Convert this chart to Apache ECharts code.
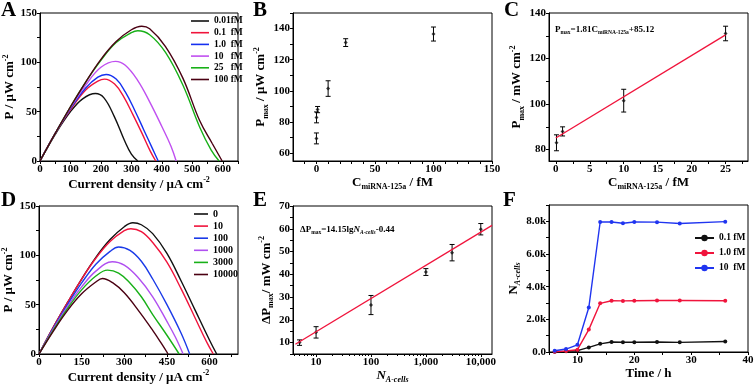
<!DOCTYPE html>
<html>
<head>
<meta charset="utf-8">
<script src="https://cdn.jsdelivr.net/npm/echarts@6/dist/echarts.min.js"></script>
<style>html,body{margin:0;padding:0;background:#fff}#main{width:755px;height:384px}</style>
</head>
<body>
<div id="main"></div>
<script>
var FONT = 'Liberation Serif';

// A: power vs current density, miRNA-125a concentrations
var namesA = ['0.01fM', '0.1  fM', '1.0  fM', '10   fM', '25   fM', '100 fM'];
var colorsA = ['#111111', '#f0143c', '#1530f0', '#c050f0', '#18b018', '#4a0012'];
var A_001 = [[0,0],[50,27],[100,50],[140,63],[182,68.4],[210,64],[244,45],[277,21],[300,7],[321,0]];
var A_01 = [[0,0],[50,28],[100,52],[150,72],[190,81],[212,83],[245,78],[275,65],[305,47],[335,28],[362,10],[380,0]];
var A_1 = [[0,0],[50,28],[100,53],[150,74],[190,85],[217,87.7],[250,83],[280,70],[310,52],[340,32],[370,12],[388,0]];
var A_10 = [[0,0],[50,28],[100,54],[150,77],[200,95],[248,101],[280,97],[320,82],[360,60],[400,35],[430,15],[447,0]];
var A_25 = [[0,0],[50,28],[100,55],[150,80],[200,102],[250,120],[300,130],[321,132],[360,128],[412,110],[469,77],[524,34.5],[562,11],[588,0]];
var A_100 = [[0,0],[50,28],[100,55],[150,80],[200,103],[250,121],[300,133],[334,136.5],[360,134],[412,116],[469,84],[524,41],[565,18],[598,0]];

// B / C: Pmax vs concentration
var concB = [0.01, 0.1, 1, 10, 25, 100];
var pmaxB = [69.5, 83, 88, 101.5, 131, 136.5];
var errB = [3.5, 3.5, 2, 5, 2.5, 4.5];
var concC = [0.1, 1, 10, 25];
var pmaxC = [83, 88, 101.5, 131];
var errC = [3.5, 2, 5, 3.2];
var fitC = [[0, 85.1], [25, 130.4]];

// D: power curves, cell numbers
var namesD = ['0', '10', '100', '1000', '3000', '10000'];
var colorsD = ['#111111', '#f0143c', '#1a3ae8', '#b050f0', '#18b018', '#4a0012'];
var D_0 = [[0,0],[50,27],[100,52],[150,76],[200,98],[250,116],[300,129],[330,133],[360,131],[400,122],[450,102],[500,74],[550,44],[600,14],[625,0]];
var D_10 = [[0,0],[50,27],[100,52],[150,76],[200,97],[250,114],[300,125],[323,127],[360,124],[400,113],[450,93],[500,66],[550,36],[590,12],[613,0]];
var D_100 = [[0,0],[50,26],[100,50],[150,72],[200,91],[250,104],[280,108.5],[320,105],[360,94],[400,76],[450,50],[500,21],[530,0]];
var D_1000 = [[0,0],[50,25],[100,48],[150,68],[200,84],[258,93.5],[300,90],[350,77],[400,58],[450,33],[480,17],[507,0]];
var D_3000 = [[0,0],[50,24],[100,46],[150,65],[200,79],[241,85],[280,82],[320,72],[360,58],[400,40],[450,19],[493,0]];
var D_10000 = [[0,0],[50,23],[100,44],[150,61],[200,73],[223,76.5],[260,72],[300,62],[350,44],[400,24],[430,11],[454,0]];

// E: delta Pmax vs cell number
var cellsE = [5, 10, 100, 1000, 3000, 10000];
var dpE = [10, 14.5, 26.5, 41, 49.5, 59.8];
var errE = [1.2, 2.5, 4.2, 1.5, 3.6, 2.5];
var fitE = [[4.2, 9.3], [16000, 61.5]];

// F: cell count vs time
var timeF = [6, 8, 10, 12, 14, 16, 18, 20, 24, 28, 36];
var namesF = ['0.1 fM', '1.0 fM', '10  fM'];
var colorsF = ['#111111', '#f0143c', '#2035f0'];
var F_01 = [18, 40, 80, 280, 500, 610, 600, 600, 610, 590, 640];
var F_1 = [18, 60, 140, 1370, 2980, 3140, 3130, 3140, 3150, 3150, 3140];
var F_10 = [80, 180, 440, 2720, 7960, 7960, 7880, 7960, 7950, 7870, 7980];

var rich = {
  n: {fontFamily: FONT, fontWeight: 'bold', fontSize: 13, color: '#000', verticalAlign: 'middle'},
  i: {fontFamily: FONT, fontWeight: 'bold', fontStyle: 'italic', fontSize: 13, color: '#000', verticalAlign: 'middle'},
  sub: {fontFamily: FONT, fontWeight: 'bold', fontSize: 8, color: '#000', verticalAlign: 'bottom', padding: [9, 0, 0, 0]},
  subi: {fontFamily: FONT, fontWeight: 'bold', fontStyle: 'italic', fontSize: 8, color: '#000', verticalAlign: 'bottom', padding: [9, 0, 0, 0]},
  sup: {fontFamily: FONT, fontWeight: 'bold', fontSize: 8, color: '#000', verticalAlign: 'top', padding: [0, 0, 9, 0]}
};
var richSmall = {
  n: {fontFamily: FONT, fontWeight: 'bold', fontSize: 9, color: '#000', verticalAlign: 'middle'},
  i: {fontFamily: FONT, fontWeight: 'bold', fontStyle: 'italic', fontSize: 9, color: '#000', verticalAlign: 'middle'},
  sub: {fontFamily: FONT, fontWeight: 'bold', fontSize: 5.5, color: '#000', verticalAlign: 'bottom', padding: [6, 0, 0, 0]},
  subi: {fontFamily: FONT, fontWeight: 'bold', fontStyle: 'italic', fontSize: 5.5, color: '#000', verticalAlign: 'bottom', padding: [6, 0, 0, 0]}
};

function range(a, b, step) {
  var r = [];
  for (var v = a; v <= b + 1e-9; v += step) r.push(+v.toFixed(6));
  return r;
}

function axis(gi, min, max, labels, ticks, name, gap, extra) {
  var ax = {
    type: 'value', gridIndex: gi, min: min, max: max,
    splitLine: {show: false},
    axisLine: {onZero: false, lineStyle: {color: '#000', width: 1}},
    axisTick: {customValues: ticks, length: 3, lineStyle: {color: '#000'}},
    axisLabel: {customValues: labels, color: '#000', fontFamily: FONT, fontWeight: 'bold', fontSize: 11, margin: 3},
    name: name, nameLocation: 'middle', nameGap: gap,
    nameTextStyle: {rich: rich}
  };
  if (extra) {
    for (var k in extra) ax[k] = extra[k];
  }
  return ax;
}

function grid(l, t, w, h) {
  return {left: l, top: t, width: w, height: h, show: true, borderColor: '#000', borderWidth: 1, outerBoundsMode: 'none', containLabel: false};
}

function errBars(xi, yi, xs, ys, es) {
  return {
    type: 'custom', xAxisIndex: xi, yAxisIndex: yi, silent: true,
    data: xs.map(function(x, i) { return [x, ys[i] - es[i], ys[i] + es[i]]; }),
    renderItem: function(params, api) {
      var lo = api.coord([api.value(0), api.value(1)]);
      var hi = api.coord([api.value(0), api.value(2)]);
      var w = 2.5;
      var st = {stroke: '#000', lineWidth: 1};
      return {type: 'group', children: [
        {type: 'line', shape: {x1: lo[0], y1: lo[1], x2: hi[0], y2: hi[1]}, style: st},
        {type: 'line', shape: {x1: lo[0] - w, y1: lo[1], x2: lo[0] + w, y2: lo[1]}, style: st},
        {type: 'line', shape: {x1: hi[0] - w, y1: hi[1], x2: hi[0] + w, y2: hi[1]}, style: st}
      ]};
    }
  };
}

function points(xi, yi, xs, ys) {
  return {
    type: 'scatter', xAxisIndex: xi, yAxisIndex: yi, symbol: 'diamond', symbolSize: 4,
    itemStyle: {color: '#111'}, silent: true,
    data: xs.map(function(x, i) { return [x, ys[i]]; })
  };
}

var series = [];
[A_001, A_01, A_1, A_10, A_25, A_100].forEach(function(d, i) {
  series.push({name: namesA[i], type: 'line', xAxisIndex: 0, yAxisIndex: 0, data: d, smooth: 0.4,
    symbol: 'none', lineStyle: {width: 1.4, color: colorsA[i]}, itemStyle: {color: colorsA[i]}});
});
series.push(errBars(1, 1, concB, pmaxB, errB));
series.push(points(1, 1, concB, pmaxB));
series.push({type: 'line', xAxisIndex: 2, yAxisIndex: 2, data: fitC, symbol: 'none',
  lineStyle: {width: 1.3, color: '#f0143c'}, silent: true});
series.push(errBars(2, 2, concC, pmaxC, errC));
series.push(points(2, 2, concC, pmaxC));
[D_0, D_10, D_100, D_1000, D_3000, D_10000].forEach(function(d, i) {
  series.push({name: namesD[i], type: 'line', xAxisIndex: 3, yAxisIndex: 3, data: d, smooth: 0.4,
    symbol: 'none', lineStyle: {width: 1.4, color: colorsD[i]}, itemStyle: {color: colorsD[i]}});
});
series.push({type: 'line', xAxisIndex: 4, yAxisIndex: 4, data: fitE, symbol: 'none',
  lineStyle: {width: 1.3, color: '#f0143c'}, silent: true});
series.push(errBars(4, 4, cellsE, dpE, errE));
series.push(points(4, 4, cellsE, dpE));
[F_01, F_1, F_10].forEach(function(d, i) {
  series.push({name: namesF[i], type: 'line', xAxisIndex: 5, yAxisIndex: 5,
    data: timeF.map(function(t, j) { return [t, d[j]]; }),
    symbol: 'circle', symbolSize: 4, lineStyle: {width: 1.4, color: colorsF[i]}, itemStyle: {color: colorsF[i]}});
});

var eMinor = [];
[1, 10, 100, 1000].forEach(function(dec) {
  for (var m = 2; m <= 9; m++) {
    var v = m * dec;
    if (v > 3.8 && v < 16000) eMinor.push(v);
  }
});

var legendText = {fontFamily: FONT, fontWeight: 'bold', color: '#000'};

var chart = echarts.init(document.getElementById('main'));
chart.setOption({
  animation: false,
  backgroundColor: '#fff',
  title: [
    {text: 'A', left: 1, top: 0},
    {text: 'B', left: 253, top: 0},
    {text: 'C', left: 504, top: 0},
    {text: 'D', left: 1, top: 190},
    {text: 'E', left: 253, top: 190},
    {text: 'F', left: 503, top: 190},
    {text: '{n|P}{sub|max}{n|=1.81C}{sub|miRNA-125a}{n|+85.12}', left: 555, top: 24,
      textStyle: {rich: richSmall}},
    {text: '{n|ΔP}{sub|max}{n|=14.15lg}{i|N}{subi|A-cells}{n|-0.44}', left: 300, top: 224,
      textStyle: {rich: richSmall}}
  ].map(function(t) {
    if (!t.textStyle) t.textStyle = {fontFamily: FONT, fontWeight: 'bold', fontSize: 21, color: '#000'};
    t.padding = 0;
    return t;
  }),
  legend: [
    {data: namesA, orient: 'vertical', left: 191, top: 16, icon: 'rect', itemWidth: 18, itemHeight: 1.6, itemGap: 1.7,
      textStyle: Object.assign({fontSize: 9.5, lineHeight: 10}, legendText), padding: 0, selectedMode: false},
    {data: namesD, orient: 'vertical', left: 194, top: 209, icon: 'rect', itemWidth: 14, itemHeight: 1.6, itemGap: 2.1,
      textStyle: Object.assign({fontSize: 10, lineHeight: 10}, legendText), padding: 0, selectedMode: false},
    {data: namesF, orient: 'vertical', left: 694, top: 233, itemWidth: 19, itemHeight: 8, itemGap: 5,
      textStyle: Object.assign({fontSize: 9.5, lineHeight: 10}, legendText), padding: 0, selectedMode: false}
  ],
  grid: [
    grid(40, 13, 198, 148),
    grid(293, 13, 199, 148),
    grid(549, 13, 199, 148),
    grid(39, 206, 199, 148),
    grid(293, 206, 199, 148),
    grid(549, 205, 199, 147)
  ],
  xAxis: [
    axis(0, 0, 650, range(0, 600, 100), range(0, 650, 50), '{n|Current density / μA cm}{sup|-2}', 13),
    axis(1, -20, 150, range(0, 150, 50), range(-10, 150, 10), '{n|C}{sub|miRNA-125a}{n| / fM}', 11),
    axis(2, -1, 28.3, range(0, 25, 5), range(0, 27.5, 2.5), '{n|C}{sub|miRNA-125a}{n| / fM}', 11),
    axis(3, 0, 700, range(0, 600, 150), range(0, 675, 75), '{n|Current density / μA cm}{sup|-2}', 10),
    axis(4, 3.8, 16000, [10, 100, 1000, 10000], [10, 100, 1000, 10000], '{i|N}{subi|A-cells}', 13,
      {type: 'log', logBase: 10}),
    axis(5, 5, 40, [10, 20, 30, 40], range(5, 40, 5), '{n|Time / h}', 12),
    {type: 'log', logBase: 10, gridIndex: 4, min: 3.8, max: 16000, position: 'bottom',
      axisLine: {show: false}, axisLabel: {show: false}, splitLine: {show: false},
      axisTick: {customValues: eMinor, length: 2, lineStyle: {color: '#000'}}}
  ],
  yAxis: [
    axis(0, 0, 150, range(0, 150, 50), range(0, 150, 25), '{n|P / μW cm}{sup|-2}', 16),
    axis(1, 55, 150, range(60, 140, 20), range(60, 150, 10), '{n|P}{sub|max}{n| / μW cm}{sup|-2}', 17),
    axis(2, 75, 140, range(80, 140, 20), range(80, 140, 10), '{n|P}{sub|max}{n| / mW cm}{sup|-2}', 23),
    axis(3, 0, 150, range(0, 150, 50), range(0, 150, 25), '{n|P / μW cm}{sup|-2}', 14),
    axis(4, 5, 70, range(10, 70, 10), range(5, 70, 5), '{n|ΔP}{sub|max}{n|/ mW cm}{sup|-2}', 10),
    axis(5, 0, 9000, range(0, 8000, 2000), range(0, 9000, 1000), '{n|N}{subi|A-cells}', 24,
      {axisLabel: {customValues: range(0, 8000, 2000), color: '#000', fontFamily: FONT, fontWeight: 'bold', fontSize: 11, margin: 3,
        formatter: function(v) { return v === 0 ? '0.0' : (v / 1000).toFixed(1) + 'k'; }}})
  ],
  series: series
});
</script>
</body>
</html>
